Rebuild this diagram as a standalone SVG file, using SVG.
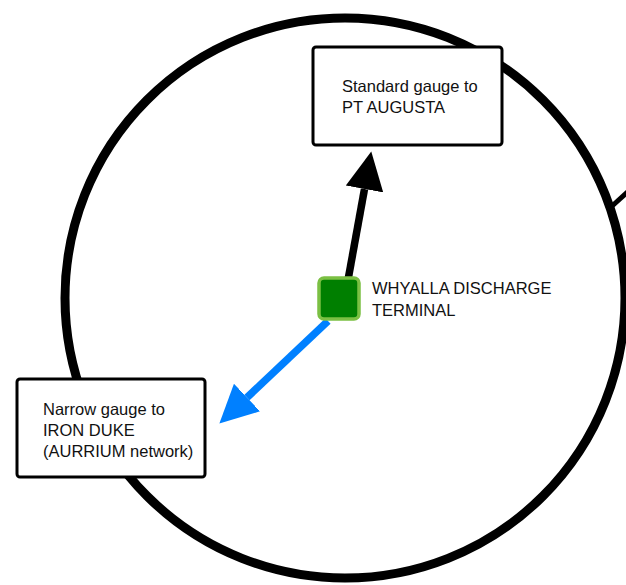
<svg xmlns="http://www.w3.org/2000/svg" width="626" height="585" viewBox="0 0 626 585">
  <style>
    .ring { fill: none; stroke: #000; stroke-width: 9; }
    .box { fill: #fff; stroke: #000; stroke-width: 3; }
    .label { font-family: "Liberation Sans", Arial, sans-serif; font-size: 16.5px; fill: #111; }
    .track-std { stroke: #000; stroke-width: 7.5; fill: none; }
    .track-narrow { stroke: #0080ff; stroke-width: 7.5; fill: none; }
    .terminal { fill: #007f00; stroke: #7bc043; stroke-width: 3.5; }
  </style>
  <defs>
    <marker id="head-black" markerUnits="userSpaceOnUse" viewBox="0 -20 40 40" markerWidth="40" markerHeight="40" refX="0" refY="0" orient="auto">
      <path d="M0,-19 L38,0 L0,19 Z" fill="#000"/>
    </marker>
    <marker id="head-blue" markerUnits="userSpaceOnUse" viewBox="0 -20 40 40" markerWidth="40" markerHeight="40" refX="0" refY="0" orient="auto">
      <path d="M0,-19 L38,0 L0,19 Z" fill="#0080ff"/>
    </marker>
  </defs>

  <rect width="626" height="585" fill="#fff"/>

  <!-- rail loop -->
  <g id="loop">
    <circle class="ring" cx="345" cy="298" r="280"/>
    <line x1="611" y1="207" x2="645" y2="176" stroke="#000" stroke-width="5"/>
  </g>

  <!-- connectors -->
  <g id="connectors">
    <line class="track-std" x1="348" y1="280" x2="364.5" y2="189" marker-end="url(#head-black)"/>
    <line class="track-narrow" x1="328" y1="321" x2="247" y2="397.5" marker-end="url(#head-blue)"/>
  </g>

  <g id="node-pt-augusta">
    <rect class="box" x="313" y="47" width="189" height="98" rx="3"/>
    <text class="label" x="342" y="92">Standard gauge to</text>
    <text class="label" x="342" y="113">PT AUGUSTA</text>
  </g>

  <g id="node-iron-duke">
    <rect class="box" x="17" y="379" width="188" height="98" rx="3"/>
    <text class="label" x="43" y="415">Narrow gauge to</text>
    <text class="label" x="43" y="436">IRON DUKE</text>
    <text class="label" x="43" y="457">(AURRIUM network)</text>
  </g>

  <g id="node-whyalla">
    <rect class="terminal" x="319" y="278" width="40" height="41" rx="5"/>
    <text class="label" x="372" y="294">WHYALLA DISCHARGE</text>
    <text class="label" x="372" y="316">TERMINAL</text>
  </g>
</svg>
